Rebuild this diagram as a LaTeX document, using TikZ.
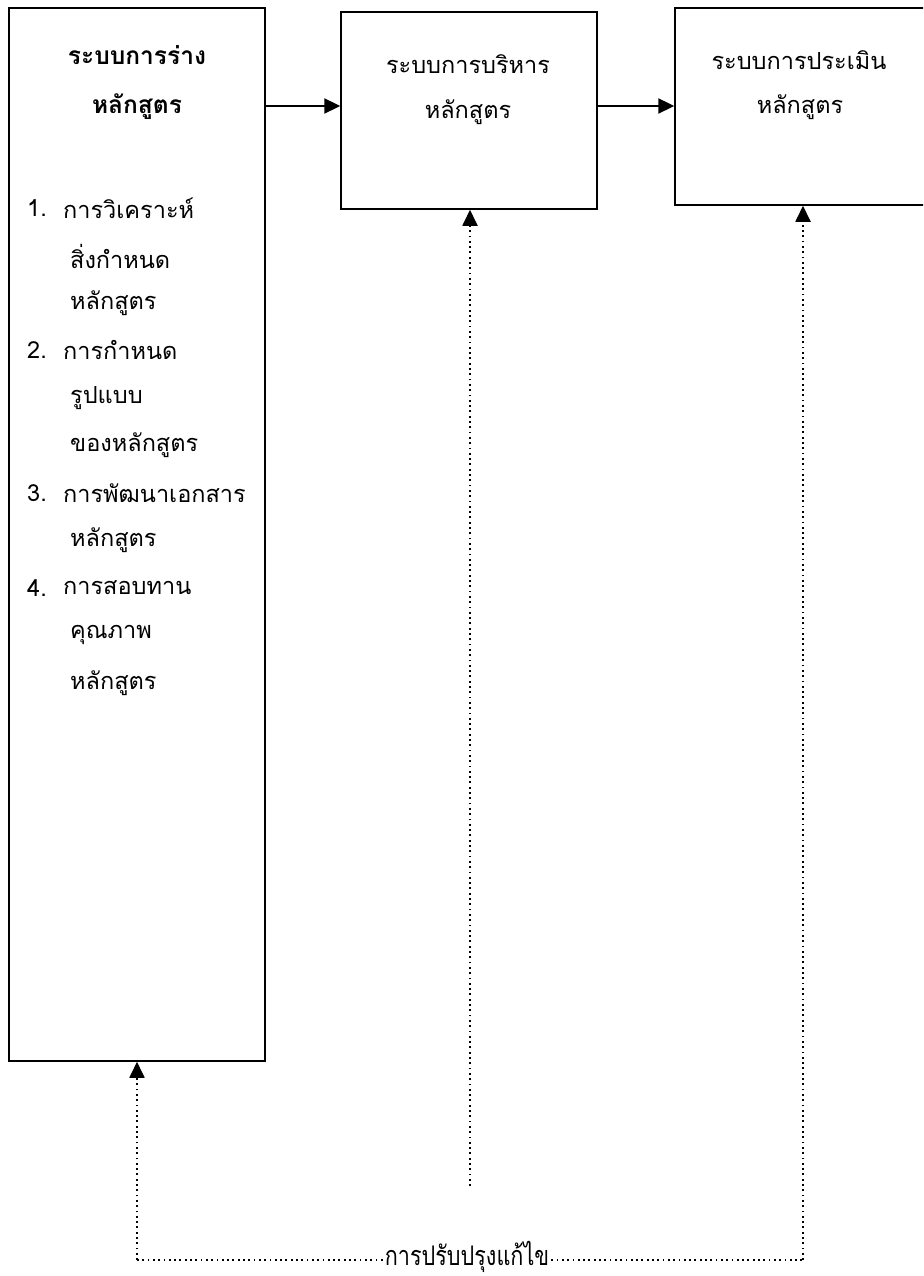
\documentclass[tikz,border=0pt]{standalone}
\usepackage{fontspec}
\newfontfamily\thai[Script=Thai]{Loma}
\usetikzlibrary{arrows.meta}
\tikzset{
  box/.style={draw, line width=1.5pt, minimum width=256pt, inner sep=0pt},
  txt/.style={font=\thai\fontsize{23.5}{28}\selectfont, inner sep=0pt},
  btxt/.style={font=\thai\bfseries\fontsize{24.5}{28}\selectfont, inner sep=0pt},
  flow/.style={line width=2.3pt, -{Triangle[length=16pt,width=15pt]}},
  fb/.style={line width=1.8pt, dash pattern=on 1.8pt off 3.5pt},
  fbarrow/.style={fb, -{Triangle[length=16pt,width=15pt,sep=0pt]}}
}
\begin{document}
\begin{tikzpicture}[x=1pt,y=-1pt]
\clip (0,0) rectangle (923,1276);
\fill[white] (0,0) rectangle (923,1276);
% boxes
\node[box, minimum height=1053pt] (draft) at (137,534.5) {};
\node[box, minimum height=197pt] (admin) at (469,110.5) {};
\node[box, minimum height=197pt] (eval) at (803,106.5) {};
% titles
\node[btxt] (t1) at (137,55) {ระบบการร่าง};
\node[btxt] (t2) at (137,107) {หลักสูตร};
\node[txt] (m1) at (468,64) {ระบบการบริหาร};
\node[txt] (m2) at (468,112) {หลักสูตร};
\node[txt] (e1) at (799,60) {ระบบการประเมิน};
\node[txt] (e2) at (800,107) {หลักสูตร};
% list
\node[txt, anchor=west] (n1) at (27,208) {1.};
\node[txt, anchor=west] (l1) at (63,208) {การวิเคราะห์};
\node[txt, anchor=west] (l2) at (70,256) {สิ่งกำหนด};
\node[txt, anchor=west] (l3) at (70,303) {หลักสูตร};
\node[txt, anchor=west] (n2) at (27,350) {2.};
\node[txt, anchor=west] (l4) at (63,350) {การกำหนด};
\node[txt, anchor=west] (l5) at (70,398) {รูปแบบ};
\node[txt, anchor=west] (l6) at (70,445) {ของหลักสูตร};
\node[txt, anchor=west] (n3) at (27,493) {3.};
\node[txt, anchor=west] (l7) at (63,493) {การพัฒนาเอกสาร};
\node[txt, anchor=west] (l8) at (70,540) {หลักสูตร};
\node[txt, anchor=west] (n4) at (27,588) {4.};
\node[txt, anchor=west] (l9) at (63,588) {การสอบทาน};
\node[txt, anchor=west] (l10) at (70,635) {คุณภาพ};
\node[txt, anchor=west] (l11) at (70,683) {หลักสูตร};
% flow arrows
\draw[flow] (draft.east |- 0,106) -- (admin.west |- 0,106);
\draw[flow] (admin.east |- 0,106) -- (eval.west |- 0,106);
% feedback
\node[inner sep=0pt, inner xsep=2pt, fill=white, font=\thai\fontsize{27}{30}\selectfont] (fbl) at (467,1257) {\scalebox{0.8}[1]{การปรับปรุงแก้ไข}};
\coordinate (mend) at (470,1186);
\coordinate (lc) at (137,1260);
\coordinate (rc) at (803,1260);
\draw[fbarrow] (mend) -- (admin.south -| mend);
\draw[fb] (fbl.west |- lc) -- (lc);
\draw[fbarrow] (lc) -- (draft.south -| lc);
\draw[fb] (fbl.east |- rc) -- (rc);
\draw[fbarrow] (rc) -- (eval.south -| rc);
\end{tikzpicture}
\end{document}
